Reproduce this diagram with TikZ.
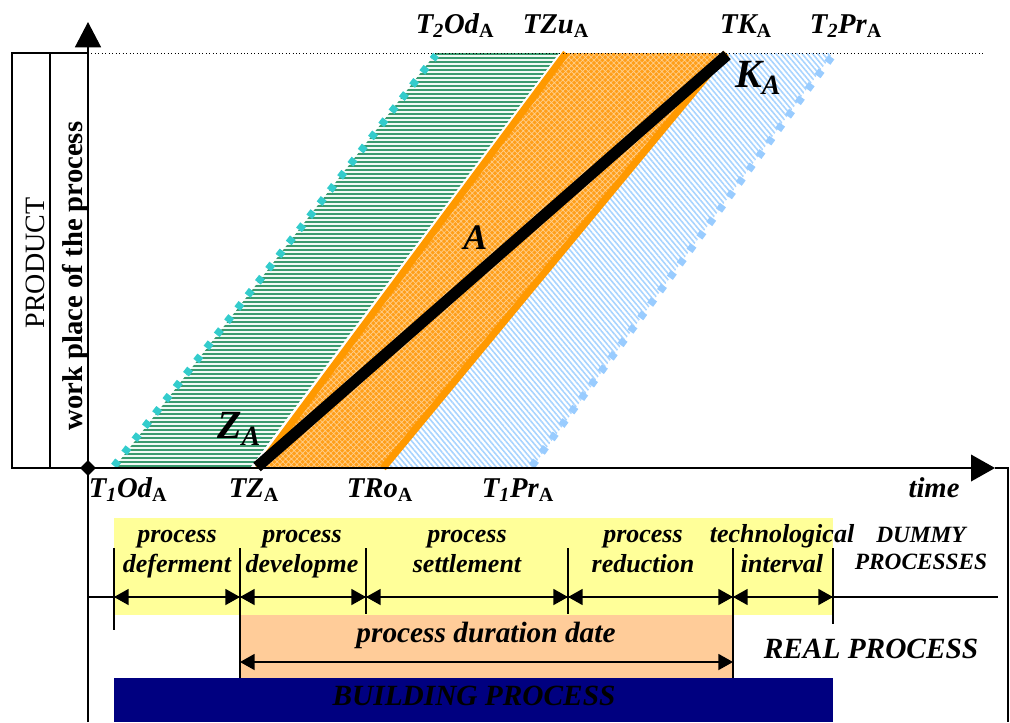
\documentclass[tikz,border=0pt]{standalone}
\usepackage{fontspec}
\setmainfont{Liberation Serif}
\usetikzlibrary{arrows.meta,patterns.meta,shapes.geometric}
\definecolor{grn}{HTML}{3A9A6E}
\definecolor{grnbg}{HTML}{F2FAF5}
\definecolor{cyn}{HTML}{33CCCC}
\definecolor{org}{HTML}{FF9900}
\definecolor{orgfill}{HTML}{FF9F1A}
\definecolor{blu}{HTML}{A8D4FF}
\definecolor{bludot}{HTML}{99CCFF}
\definecolor{yel}{HTML}{FFFF99}
\definecolor{peach}{HTML}{FFCC99}
\definecolor{navyb}{HTML}{000080}
\newcommand\subA{\textsubscript{\upshape A}}
\begin{document}
\begin{tikzpicture}[x=0.75pt,y=-0.75pt,
  axis/.style={line width=1.2pt},
  tick/.style={line width=1.3pt},
  dimarr/.style={line width=1.3pt,{Triangle[length=11pt,width=12pt]}-{Triangle[length=11pt,width=12pt]}},
  tlab/.style={anchor=base,inner sep=0pt,font=\fontsize{21.5}{25}\selectfont\bfseries\itshape},
  ylab/.style={anchor=base,inner sep=0pt,font=\fontsize{19.5}{22}\selectfont\bfseries\itshape},
  dlab/.style={anchor=base,inner sep=0pt,font=\fontsize{17.5}{20}\selectfont\bfseries\itshape},
  blab/.style={anchor=base,inner sep=0pt,font=\fontsize{22}{26}\selectfont\bfseries\itshape},
  pointlab/.style={anchor=base west,inner sep=0pt,font=\fontsize{30}{32}\selectfont\bfseries\itshape}]
\useasboundingbox (0,0) rectangle (1010,722);

% ---- bands ----
\path[fill=grnbg,postaction={pattern={Lines[angle=0,distance=3pt,line width=1.3pt]},pattern color=grn}]
  (114,468) -- (436,53) -- (559,53) -- (250,468) -- cycle;
\path[fill=white,postaction={pattern={Lines[angle=-50,distance=3pt,line width=1.2pt]},pattern color=blu}]
  (383,468) -- (726,53) -- (833,53) -- (532,468) -- cycle;
\path[fill=orgfill,postaction={pattern={Hatch[angle=45,distance=3pt,line width=0.5pt]},pattern color=white!50!orgfill}]
  (257,468) -- (566,53) -- (726,53) -- (383,468) -- cycle;

% dotted borders
\coordinate (od1) at (114,466);
\coordinate (od2) at (436,55);
\coordinate (pr1) at (532,466);
\coordinate (pr2) at (833,55);
\draw[cyn,line width=5.5pt,dash pattern=on 5pt off 7.5pt] (od1) -- (od2);
\draw[bludot,line width=5.5pt,dash pattern=on 5pt off 7.5pt] (pr1) -- (pr2);

% orange edges
\coordinate (zu1) at (258,468);
\coordinate (zu2) at (566,53);
\coordinate (ro1) at (383,468);
\coordinate (ro2) at (726,53);
\draw[org,line width=5.25pt] (zu1) -- (zu2);
\draw[org,line width=5.25pt] (ro1) -- (ro2);

% process line
\coordinate (ZA) at (257,467);
\coordinate (KA) at (727,55);
\draw[black,line width=8.5pt] (ZA) -- (KA);

% top dotted line
\coordinate (dl1) at (88,53);
\coordinate (dl2) at (985,53);
\draw[dotted,line width=0.6pt] (dl1) -- (dl2);

% ---- left boxes ----
\draw[axis] (12,53) rectangle (88,468);
\draw[axis] (50,53) -- (50,468);
\node[rotate=90,anchor=base,inner sep=0pt,font=\fontsize{21}{24}\selectfont] (prod) at (44,263) {PRODUCT};
\node[rotate=90,anchor=base,inner sep=0pt,font=\fontsize{21.5}{24}\selectfont\bfseries] (wp) at (82,276) {work place of the process};

% ---- axes ----
\coordinate (O) at (88,468);
\coordinate (ytop) at (88,22);
\coordinate (ybot) at (88,722);
\coordinate (xl) at (12,468);
\coordinate (xtip) at (995,468);
\coordinate (xr) at (1008,468);
\coordinate (xrb) at (1008,722);
\draw[axis,-{Triangle[length=19pt,width=19.5pt]}] (ybot) -- (ytop);
\draw[axis,-{Triangle[length=18pt,width=20pt]}] (xl) -- (xtip);
\draw[axis] (xtip) -- (xr) -- (xrb);
\node[diamond,fill=black,inner sep=0pt,minimum width=12pt,minimum height=12pt] (orig) at (O) {};

% ---- point labels ----
\node[pointlab] (zlab) at (217,438) {Z\textsubscript{A}};
\node[pointlab] (klab) at (735,87) {K\textsubscript{A}};
\node[anchor=base west,inner sep=0pt,font=\fontsize{27}{30}\selectfont\bfseries\itshape] (alab) at (463,249) {A};

% ---- time labels ----
\node[tlab] (t2od) at (455,33) {T\textsubscript{2}Od\subA};
\node[tlab] (tzu) at (556,33) {TZu\subA};
\node[tlab] (tk) at (746,33) {TK\subA};
\node[tlab] (t2pr) at (846,33) {T\textsubscript{2}Pr\subA};
\node[tlab] (t1od) at (128,497) {T\textsubscript{1}Od\subA};
\node[tlab] (tz) at (254,497) {TZ\subA};
\node[tlab] (tro) at (380,497) {TRo\subA};
\node[tlab] (t1pr) at (518,497) {T\textsubscript{1}Pr\subA};
\node[tlab] (time) at (934,497) {time};

% ---- bottom bars ----
\fill[yel] (114,518) rectangle (833,615);
\fill[peach] (240,615) rectangle (733,678);
\fill[navyb] (114,678) rectangle (833,722);

% dimension line and ticks
\coordinate (d0) at (88,597);
\coordinate (dend) at (998,597);
\draw[line width=1.2pt] (d0) -- (dend);
\coordinate (a1) at (114,597);
\coordinate (a2) at (240,597);
\coordinate (a3) at (366,597);
\coordinate (a4) at (568,597);
\coordinate (a5) at (733,597);
\coordinate (a6) at (833,597);
\draw[tick] (114,548) -- (114,630);
\draw[tick] (240,548) -- (240,678);
\draw[tick] (366,548) -- (366,614);
\draw[tick] (568,548) -- (568,614);
\draw[tick] (733,548) -- (733,678);
\draw[tick] (833,548) -- (833,630);
\draw[dimarr] (a1) -- (a2);
\draw[dimarr] (a2) -- (a3);
\draw[dimarr] (a3) -- (a4);
\draw[dimarr] (a4) -- (a5);
\draw[dimarr] (a5) -- (a6);
\coordinate (b1) at (240,662);
\coordinate (b2) at (733,662);
\draw[dimarr] (b1) -- (b2);

% texts
\node[ylab] (l1a) at (177,542) {process};
\node[ylab] (l1b) at (177,572) {deferment};
\node[ylab] (l2a) at (302,542) {process};
\node[ylab] (l2b) at (302,572) {developme};
\node[ylab] (l3a) at (467,542) {process};
\node[ylab] (l3b) at (467,572) {settlement};
\node[ylab] (l4a) at (643,542) {process};
\node[ylab] (l4b) at (643,572) {reduction};
\node[ylab] (l5a) at (782,542) {technological};
\node[ylab] (l5b) at (782,572) {interval};
\node[dlab] (l6a) at (921,542) {DUMMY};
\node[dlab] (l6b) at (921,569) {PROCESSES};
\node[blab] (dur) at (486,642) {process duration date};
\node[blab,fill=white,minimum height=36pt,text depth=0pt,inner xsep=14pt] (real) at (871,658) {REAL PROCESS};
\node[blab] (bp) at (474,705) {BUILDING PROCESS};
\end{tikzpicture}
\end{document}
